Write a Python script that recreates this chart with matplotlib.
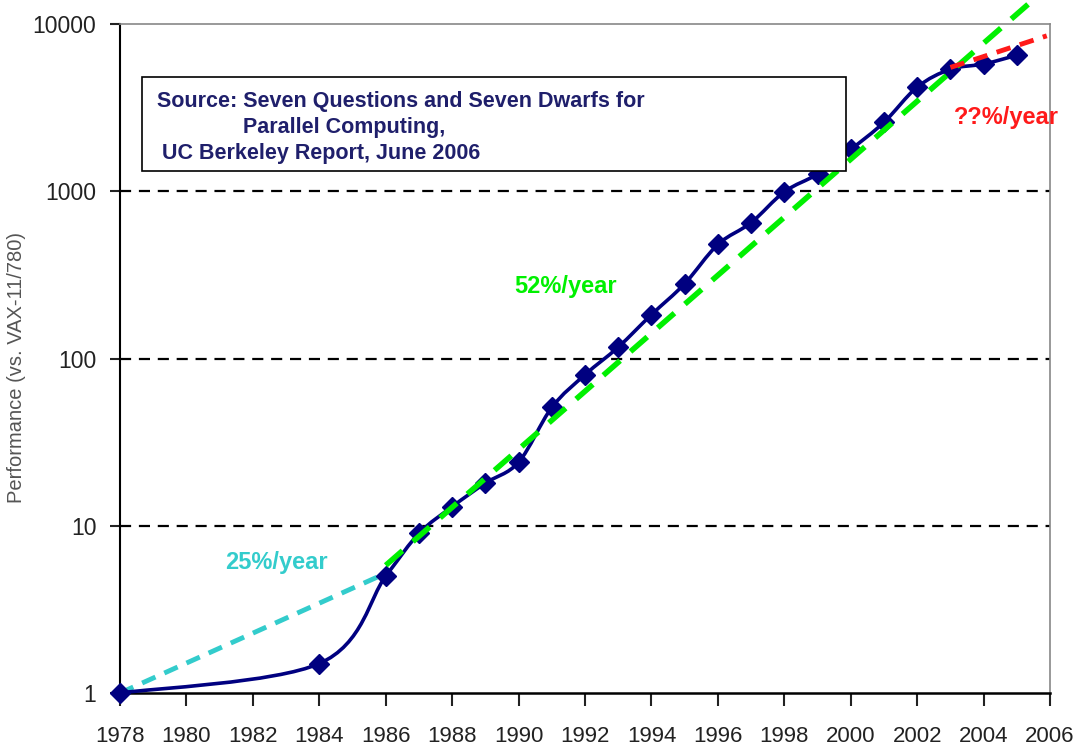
import numpy as np
import matplotlib.pyplot as plt
import matplotlib.ticker as ticker
from matplotlib.path import Path
from matplotlib.patches import PathPatch, Rectangle
from matplotlib import font_manager

# uniprocessor performance relative to VAX-11/780
years = [1978, 1984, 1986, 1987, 1988, 1989, 1990, 1991, 1992, 1993, 1994,
         1995, 1996, 1997, 1998, 1999, 2000, 2001, 2002, 2003, 2004, 2005]
perf = [1, 1.5, 5, 9, 13, 18, 24, 51, 80, 117, 183,
        280, 481, 649, 993, 1267, 1779, 2584, 4195, 5364, 5764, 6505]

# trend lines (end points)
trend_25_x = [1978, 1986]
trend_25_y = [1, 5.2]
trend_52_x = [1986, 2006.2]
trend_52_y = [5.8, 18500]
trend_qq_x = [2003, 2005.9]
trend_qq_y = [5500, 8500]

xticks = list(range(1978, 2007, 2))
yticks = [1, 10, 100, 1000, 10000]

names = {f.name for f in font_manager.fontManager.ttflist}
narrow = 'Liberation Sans Narrow' if 'Liberation Sans Narrow' in names else 'Liberation Sans'
plt.rcParams['font.family'] = ['Liberation Sans', 'DejaVu Sans']

NAVY = '#000080'
GREEN = '#00f000'
CYAN = '#33cccc'
RED = '#ff1a1a'


def smooth_path(xs, ys, tension=1 / 6):
    # Catmull-Rom style bezier through the points, built in log-y space
    lx = np.asarray(xs, float)
    ly = np.log10(np.asarray(ys, float))
    verts = [(lx[0], ly[0])]
    codes = [Path.MOVETO]
    n = len(lx)
    for i in range(n - 1):
        p0 = (lx[max(i - 1, 0)], ly[max(i - 1, 0)])
        p1 = (lx[i], ly[i])
        p2 = (lx[i + 1], ly[i + 1])
        p3 = (lx[min(i + 2, n - 1)], ly[min(i + 2, n - 1)])
        c1 = (p1[0] + (p2[0] - p0[0]) * tension, p1[1] + (p2[1] - p0[1]) * tension)
        c2 = (p2[0] - (p3[0] - p1[0]) * tension, p2[1] - (p3[1] - p1[1]) * tension)
        verts += [c1, c2, p2]
        codes += [Path.CURVE4] * 3
    verts = [(x, 10 ** y) for x, y in verts]
    return Path(verts, codes)


fig = plt.figure(figsize=(10.82, 7.55), dpi=100)
ax = fig.add_axes([0.1109, 0.0821, 0.8596, 0.8861])
ax.set_yscale('log')
ax.set_xlim(1978, 2006)
ax.set_ylim(1, 10000)

for v in [10, 100, 1000]:
    ax.axhline(v, color='black', lw=1.6, ls=(0, (5, 3.5)), zorder=1)

ax.plot(trend_25_x, trend_25_y, color=CYAN, lw=3.5, ls=(0, (3, 2)), zorder=2, clip_on=False)

ax.add_patch(PathPatch(smooth_path(years, perf), facecolor='none', edgecolor=NAVY,
                       lw=2.6, zorder=3, clip_on=False))
ax.plot(years, perf, ls='none', marker='D', ms=10, color=NAVY, zorder=4, clip_on=False)

ax.plot(trend_52_x, trend_52_y, color=GREEN, lw=4, ls=(0, (4, 2.5)), zorder=5, clip_on=False)
ax.plot(trend_qq_x, trend_qq_y, color=RED, lw=3.5, ls=(0, (3, 2)), zorder=5, clip_on=False)

ax.text(1991.4, 270, '52%/year', color=GREEN, fontsize=17, fontweight='bold',
        family=narrow, ha='center', va='center')
ax.text(1982.7, 6.0, '25%/year', color=CYAN, fontsize=17, fontweight='bold',
        family=narrow, ha='center', va='center')
ax.text(2004.7, 2770, '??%/year', color=RED, fontsize=17, fontweight='bold',
        family=narrow, ha='center', va='center')

# source box
box = Rectangle((142 / 1082, 1 - 171 / 755), (846 - 142) / 1082, (171 - 77) / 755,
                transform=fig.transFigure, facecolor='white', edgecolor='black', lw=1.2, zorder=6)
fig.patches.append(box)
src_col = '#1f1f6b'
fig.text(157 / 1082, 1 - 102 / 755, 'Source: Seven Questions and Seven Dwarfs for',
         color=src_col, fontsize=15.5, fontweight='bold', va='center', zorder=7)
fig.text(243 / 1082, 1 - 127 / 755, 'Parallel Computing,',
         color=src_col, fontsize=15.5, fontweight='bold', va='center', zorder=7)
fig.text(162 / 1082, 1 - 154 / 755, 'UC Berkeley Report, June 2006',
         color=src_col, fontsize=15.5, fontweight='bold', va='center', zorder=7)

ax.set_xticks(xticks)
ax.set_xticklabels([str(y) for y in xticks], family=narrow, fontsize=16)
ax.yaxis.set_major_locator(ticker.FixedLocator(yticks))
ax.yaxis.set_minor_locator(ticker.NullLocator())
ax.set_yticklabels([str(v) for v in yticks], family=narrow, fontsize=16.5)
ax.tick_params(axis='x', direction='out', length=9, width=1.5, pad=15, colors='#222222')
ax.tick_params(axis='y', direction='out', length=7, width=1.5, pad=10, colors='#222222')

ax.spines['left'].set_color('black')
ax.spines['bottom'].set_color('black')
ax.spines['left'].set_linewidth(1.5)
ax.spines['bottom'].set_linewidth(1.8)
ax.spines['top'].set_color('#888888')
ax.spines['right'].set_color('#888888')
ax.spines['top'].set_linewidth(1.2)
ax.spines['right'].set_linewidth(1.2)

fig.text(17 / 1082, 1 - 368 / 755, 'Performance (vs. VAX-11/780)', rotation=90,
         color='#555555', fontsize=14.5, ha='center', va='center')

fig.savefig('out.png', dpi=100)
